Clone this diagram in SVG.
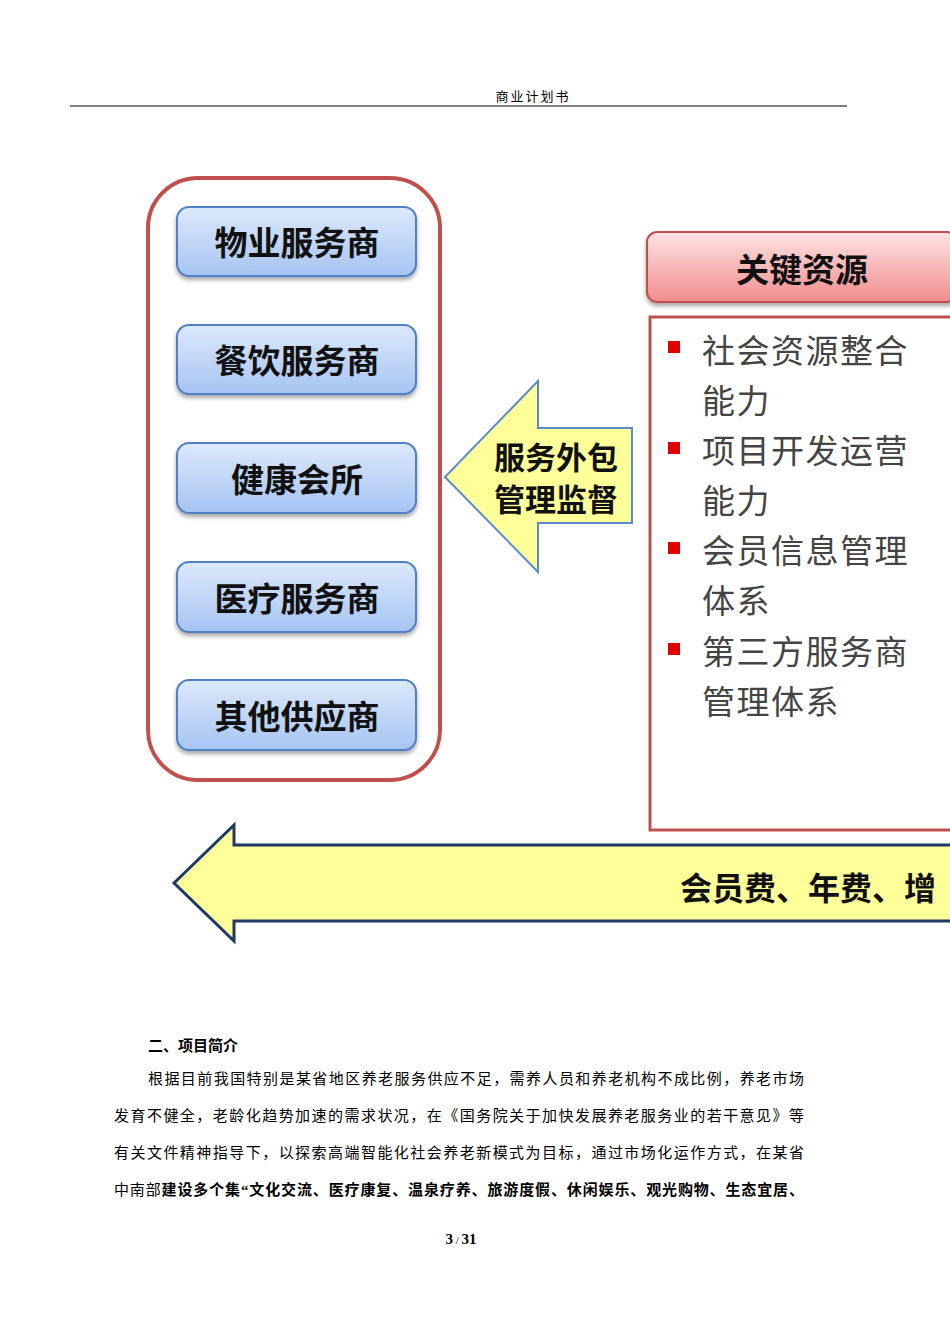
<svg xmlns="http://www.w3.org/2000/svg" width="950" height="1344" viewBox="0 0 950 1344">
<defs>
<linearGradient id="bg" x1="0" y1="0" x2="0" y2="1"><stop offset="0" stop-color="#dde9fb"/><stop offset="1" stop-color="#a6c4f2"/></linearGradient>
<linearGradient id="pg" x1="0" y1="0" x2="0" y2="1"><stop offset="0" stop-color="#fde3e3"/><stop offset="1" stop-color="#f28c8c"/></linearGradient>
<filter id="sh" x="-10%" y="-10%" width="120%" height="130%"><feDropShadow dx="0" dy="3" stdDeviation="2" flood-color="#000" flood-opacity="0.35"/></filter>
<style>
.box{fill:url(#bg);stroke:#4f7fc4;stroke-width:2;filter:url(#sh)}
.bt{font-family:"Noto Sans CJK SC",sans-serif;font-size:33px;font-weight:bold;fill:#111;text-anchor:middle}
.rt{font-family:"Noto Sans CJK SC",sans-serif;font-size:33px;fill:#444;letter-spacing:1.5px}
.bul{fill:#e00000}
.p{font-family:"Liberation Serif","Noto Sans CJK SC",serif;font-size:15px;fill:#000}
</style>
</defs>
<text x="533" y="101" font-family="Noto Sans CJK SC,sans-serif" font-size="13" text-anchor="middle" letter-spacing="2">商业计划书</text>
<line x1="70" y1="106" x2="847" y2="106" stroke="#000" stroke-width="1"/>
<rect x="148" y="178" width="292" height="602" rx="50" fill="#fff" stroke="#c0504d" stroke-width="4"/>
<g id="n1"><rect class="box" x="177" y="207" width="239" height="69" rx="12"/><text class="bt" x="297" y="255">物业服务商</text></g>
<g id="n2"><rect class="box" x="177" y="325" width="239" height="69" rx="12"/><text class="bt" x="297" y="373">餐饮服务商</text></g>
<g id="n3"><rect class="box" x="177" y="443" width="239" height="70" rx="12"/><text class="bt" x="297" y="492">健康会所</text></g>
<g id="n4"><rect class="box" x="177" y="562" width="239" height="70" rx="12"/><text class="bt" x="297" y="611">医疗服务商</text></g>
<g id="n5"><rect class="box" x="177" y="680" width="239" height="70" rx="12"/><text class="bt" x="297" y="729">其他供应商</text></g>
<g id="connectors">
<polygon points="445,477 538,381 538,428 632,428 632,523 538,523 538,572" fill="#ffff99" stroke="#5b8bc9" stroke-width="2"/>
<text class="bt" x="556" y="469" style="font-size:31px">服务外包</text>
<text class="bt" x="556" y="511" style="font-size:31px">管理监督</text>
<polygon points="174,883 234,825 234,845 952,845 952,921 234,921 234,941" fill="#ffff99" stroke="#1f3864" stroke-width="3"/>
<text x="680" y="900" font-family="Noto Sans CJK SC,sans-serif" font-size="32" font-weight="bold" fill="#111">会员费、年费、增</text>
</g>
<g id="res">
<rect x="647" y="232" width="310" height="70" rx="10" fill="url(#pg)" stroke="#c0504d" stroke-width="2" filter="url(#sh)"/>
<text class="bt" x="802" y="282">关键资源</text>
<rect x="650" y="317" width="305" height="513" fill="#fff" stroke="#c0504d" stroke-width="3"/>
<rect class="bul" x="668" y="341" width="12" height="12"/>
<rect class="bul" x="668" y="442" width="12" height="12"/>
<rect class="bul" x="668" y="542" width="12" height="12"/>
<rect class="bul" x="668" y="643" width="12" height="12"/>
<text class="rt" x="702" y="363">社会资源整合</text>
<text class="rt" x="702" y="413">能力</text>
<text class="rt" x="702" y="463">项目开发运营</text>
<text class="rt" x="702" y="513">能力</text>
<text class="rt" x="702" y="563">会员信息管理</text>
<text class="rt" x="702" y="613">体系</text>
<text class="rt" x="702" y="664">第三方服务商</text>
<text class="rt" x="702" y="714">管理体系</text>
</g>
<text class="p" x="148" y="1051" font-weight="bold">二、项目简介</text>
<text class="p" x="148" y="1084" textLength="656">根据目前我国特别是某省地区养老服务供应不足，需养人员和养老机构不成比例，养老市场</text>
<text class="p" x="114" y="1121" textLength="690">发育不健全，老龄化趋势加速的需求状况，在《国务院关于加快发展养老服务业的若干意见》等</text>
<text class="p" x="114" y="1158" textLength="690">有关文件精神指导下，以探索高端智能化社会养老新模式为目标，通过市场化运作方式，在某省</text>
<text class="p" x="114" y="1195" textLength="690">中南部<tspan font-weight="bold">建设多个集“文化交流、医疗康复、温泉疗养、旅游度假、休闲娱乐、观光购物、生态宜居、</tspan></text>
<text class="p" x="461" y="1244" font-weight="bold" font-size="17" text-anchor="middle">3<tspan font-size="11" font-weight="normal"> / </tspan>31</text>
</svg>
